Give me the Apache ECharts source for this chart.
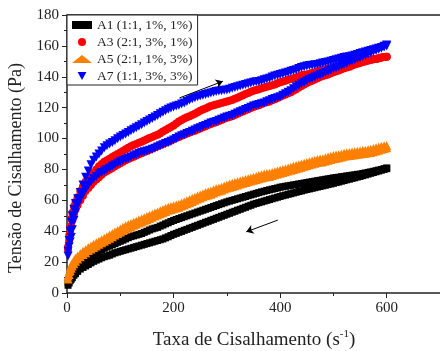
<!DOCTYPE html>
<html><head><meta charset="utf-8">
<script src="https://cdn.jsdelivr.net/npm/echarts@6/dist/echarts.min.js"></script>
<style>html,body{margin:0;padding:0;background:#fff}#c{width:440px;height:351px}</style>
</head><body><div id="c"></div>
<script>
// shear rate (s^-1) sample points
const shearRate = [2,4,6,8,10,13,16,20,25,30,35,40,
  45,50,
  55,60,65,70,75,80,85,90,95,100,
  105,110,115,120,125,130,135,140,145,150,
  155,160,165,170,175,180,185,190,195,200,
  205,210,215,220,225,230,235,240,245,250,
  255,260,265,270,275,280,285,290,295,300,
  305,310,315,320,325,330,335,340,345,350,
  355,360,365,370,375,380,385,390,395,400,
  405,410,415,420,425,430,435,440,445,450,
  455,460,465,470,475,480,485,490,495,500,
  505,510,515,520,525,530,535,540,545,550,
  555,560,565,570,575,580,585,590,595,600];

// A1 (1:1, 1%, 1%) - up and down curves (Pa)
const a1Up = [7,9,10.5,12,13,14.5,16,17.5,19,20.5,22,23,
  24,25,
  26,27,28,29,29.8,30.5,31.3,32,32.8,33.5,
  34.2,35,35.8,36.5,37,37.5,38,38.5,39.3,40,
  40.8,41.5,42,42.5,43.3,44,44.8,45.5,46.3,47,
  47.6,48.2,48.8,49.4,50,50.6,51.2,51.8,52.4,53,
  53.6,54.2,54.8,55.4,56,56.6,57.2,57.8,58.4,59,
  59.5,60,60.5,61,61.5,62,62.5,63,63.5,64,
  64.5,65,65.5,65.9,66.4,66.8,67.2,67.6,68,68.5,
  68.8,69.1,69.4,69.7,70,70.3,70.6,70.9,71.2,71.5,
  71.8,72.1,72.4,72.7,73,73.3,73.6,73.9,74.2,74.5,
  74.8,75,75.3,75.5,75.8,76,76.3,76.5,76.8,77,
  77.4,77.7,78.1,78.4,78.8,79.2,79.6,80,80.5,81];
const a1Down = [5,6.5,8,9,10,11.5,12.5,14,15.5,16.5,17.5,18.5,
  19.5,20.5,
  21.3,22,22.8,23.5,24,24.5,25.3,26,26.5,27,
  27.5,28,28.5,29,29.5,30,30.5,31,31.5,32,
  32.5,33,33.5,34,34.5,35,35.7,36.4,37.2,38,
  38.6,39.3,39.9,40.6,41.2,41.9,42.5,43.2,43.8,44.5,
  45.1,45.8,46.4,47.1,47.7,48.4,49,49.7,50.3,51,
  51.6,52.3,52.9,53.6,54.2,54.9,55.5,56.2,56.8,57.5,
  58,58.5,59,59.5,60,60.5,61,61.5,62,62.5,
  63,63.4,63.9,64.3,64.8,65.2,65.7,66.1,66.6,67,
  67.4,67.8,68.2,68.6,69,69.4,69.8,70.2,70.6,71,
  71.5,71.9,72.4,72.8,73.3,73.7,74.2,74.6,75.1,75.5,
  76,76.5,77,77.5,78,78.5,79,79.5,80,80.5];

// A3 (2:1, 3%, 1%)
const a3Up = [30,37,43,48,52,56,59,62,66,69,72,75,
  76.5,78,
  80,82,83.5,85,86,87,88,89,90,91,
  92,93,94,95,95.8,96.5,97.3,98,98.8,99.5,
  100.3,101,101.8,102.5,103.5,104.5,105.5,106.5,107.5,108.5,
  109.8,111,112,113,113.8,114.5,115.3,116,117,118,
  118.8,119.5,120.3,121,121.5,122,122.5,123,123.5,124,
  124.5,125,125.8,126.5,127.3,128,128.8,129.5,130.3,131,
  131.5,132,132.5,133,133.5,134,134.5,135,135.8,136.5,
  137,137.5,138,138.5,139,139.5,140.3,141,141.3,141.5,
  142,142.5,143,143.5,144,144.5,144.8,145,145.5,146,
  146.3,146.5,146.8,147,147.5,148,148.5,149,149.3,149.5,
  149.8,150,150.5,151,151.3,151.5,152,152.5,152.8,153];
const a3Down = [28,34,39,43,47,51,54,57,60,63,66,68,
  70,72,
  73.5,75,76.5,78,79,80,81,82,83,84,
  85,86,86.8,87.5,88.3,89,89.8,90.5,91.3,92,
  92.8,93.5,94.3,95,95.8,96.5,97.3,98,98.8,99.5,
  100.3,101,101.8,102.5,103.3,104,104.5,105,105.8,106.5,
  107.3,108,108.8,109.5,110,110.5,111.3,112,112.8,113.5,
  114,114.5,115.3,116,116.8,117.5,118.3,119,119.8,120.5,
  121,121.5,122.3,123,123.5,124,124.8,125.5,126.3,127,
  127.8,128.5,129.3,130,131,132,133,134,135,136,
  136.8,137.5,138.3,139,139.8,140.5,141,141.5,142.3,143,
  143.5,144,144.8,145.5,146,146.5,147.3,148,148.5,149,
  149.5,150,150.5,151,151.3,151.5,152,152.5,152.8,153];

// A5 (2:1, 1%, 3%)
const a5Up = [11,14,16.5,18,19.5,21,22.5,24,25.5,27,28,29.5,
  30.5,31.5,
  32.5,33.5,34.5,35.5,36.5,37.5,38.5,39.5,40.5,41.5,
  42.5,43.5,44.3,45,45.8,46.5,47.3,48,48.8,49.5,
  50.3,51,51.8,52.5,53.3,54,54.8,55.5,56,56.5,
  57,57.5,58.3,59,59.8,60.5,61.3,62,62.8,63.5,
  64.3,65,65.5,66,66.8,67.5,68,68.5,69.3,70,
  70.5,71,71.5,72,72.5,73,73.5,74,74.5,75,
  75.5,76,76.5,77,77.3,77.5,78,78.5,79,79.5,
  80,80.5,81,81.5,82,82.5,83,83.5,84,84.5,
  85,85.5,86,86.5,86.8,87,87.5,88,88.5,89,
  89.3,89.5,90,90.5,90.8,91,91.3,91.5,91.8,92,
  92.3,92.5,92.8,93,93.5,94,94.5,95,95.3,95.5];
const a5Down = [9,12,14.5,16,17.5,19,20.5,22,23.5,25,26,27.5,
  28.5,29.5,
  30.5,31.5,32.5,33.5,34.5,35.5,36.5,37.5,38.5,39.5,
  40.5,41.5,42.3,43,43.8,44.5,45.3,46,46.8,47.5,
  48.3,49,49.8,50.5,51.3,52,52.8,53.5,54,54.5,
  55,55.5,56.3,57,57.8,58.5,59.3,60,60.8,61.5,
  62.3,63,63.5,64,64.8,65.5,66,66.5,67.3,68,
  68.5,69,69.5,70,70.5,71,71.5,72,72.5,73,
  73.5,74,74.5,75,75.3,75.5,76,76.5,77,77.5,
  78,78.5,79,79.5,80,80.5,81,81.5,82,82.5,
  83,83.5,84,84.5,84.8,85,85.5,86,86.5,87,
  87.3,87.5,88,88.5,88.8,89,89.3,89.5,89.8,90,
  90.3,90.5,90.8,91,91.5,92,92.5,93,93.5,94];

// A7 (1:1, 3%, 3%)
const a7Up = [27,34,40,46,50,54,58,61,65,70,75,79,
  83,86,
  88,90,92,94,95.3,96.5,97.5,98.5,99.8,101,
  102,103,104,105,106,107,108,109,110,111,
  112,113,114,115,116,117,118,119,119.8,120.5,
  121,121.5,122.3,123,124,125,125.8,126.5,127,127.5,
  128,128.5,129,129.5,130,130.5,130.8,131,131.3,131.5,
  132,132.5,133,133.5,134,134.5,135,135.5,136,136.5,
  136.8,137,137.5,138,138.5,139,139.8,140.5,141,141.5,
  142,142.5,143,143.5,144,144.5,145.3,146,146.5,147,
  147.3,147.5,147.8,148,148.5,149,149.3,149.5,150,150.5,
  151,151.5,152,152.5,152.8,153,153.5,154,154.5,155,
  155.5,156,156.5,157,157.5,158,158.5,159,159.8,160.5];
const a7Down = [24,30,33,36,41,47,52,57,61,64,67,70,
  72,74,
  75.5,77,78,79,80,81,82,83,84,85,
  85.8,86.5,87.3,88,88.8,89.5,90.3,91,91.5,92,
  92.5,93,93.8,94.5,95.3,96,96.8,97.5,98.3,99,
  100,101,101.8,102.5,103.3,104,104.8,105.5,106.3,107,
  107.8,108.5,109.3,110,110.5,111,111.8,112.5,113.3,114,
  114.5,115,115.8,116.5,117.3,118,118.8,119.5,120.3,121,
  121.5,122,122.5,123,123.8,124.5,125.3,126,126.5,127,
  128,129,130,131,132.3,133.5,134.5,135.5,136.5,137.5,
  138.3,139,139.8,140.5,141.3,142,142.8,143.5,144.3,145,
  145.8,146.5,147.3,148,148.8,149.5,150.3,151,151.8,152.5,
  153.3,154,154.8,155.5,156.3,157,157.8,158.5,159.3,160];

const seriesNames = ['A1 (1:1, 1%, 1%)','A3 (2:1, 3%, 1%)','A5 (2:1, 1%, 3%)','A7 (1:1, 3%, 3%)'];
const xTicks = [0,200,400,600];
// arrow annotations [start, end] in data units
const arrowUp = [[211,126.3],[292.5,137.1]];
const arrowDown = [[395.6,47.2],[336.4,39.6]];

function loop(up, down){
  return shearRate.map((x,i)=>[x, up[i]]).concat(shearRate.map((x,i)=>[x, down[i]]));
}
const serif = '"Liberation Serif","Times New Roman",serif';
const axisColor = '#222';
const downTri = 'path://M0,0 L10,0 L5,9 Z';

const chart = echarts.init(document.getElementById('c'), null, {renderer:'canvas'});
chart.setOption({
  animation:false,
  backgroundColor:'#fff',
  grid:{left:67, right:0, top:15, bottom:58, containLabel:false},
  legend:{
    orient:'vertical', left:67, top:15,
    backgroundColor:'#fff', borderColor:axisColor, borderWidth:1,
    padding:[3,5,2,5], itemWidth:20, itemHeight:8, itemGap:3,
    textStyle:{fontFamily:serif, fontSize:13.5, color:'#222'},
    data:seriesNames
  },
  xAxis:[{
    type:'value', min:0, max:700, interval:200,
    axisLine:{show:true, onZero:false, lineStyle:{color:axisColor, width:1.5}},
    axisTick:{show:true, length:5, lineStyle:{color:axisColor, width:1}},
    minorTick:{show:true, splitNumber:2, length:3, lineStyle:{color:axisColor, width:1}},
    splitLine:{show:false},
    axisLabel:{showMaxLabel:false, fontFamily:serif, fontSize:15, color:'#222', margin:8,
      formatter:v=> xTicks.indexOf(v)>=0 ? String(v) : ''}
  },{
    type:'value', position:'top', min:0, max:700,
    axisLine:{show:true, onZero:false, lineStyle:{color:axisColor, width:1.5}},
    axisTick:{show:false}, axisLabel:{show:false}, splitLine:{show:false}
  }],
  yAxis:{
    type:'value', min:0, max:180, interval:20,
    axisLine:{show:true, onZero:false, lineStyle:{color:axisColor, width:1.5}},
    axisTick:{show:true, length:5, lineStyle:{color:axisColor, width:1}},
    minorTick:{show:true, splitNumber:2, length:3, lineStyle:{color:axisColor, width:1}},
    splitLine:{show:false},
    axisLabel:{fontFamily:serif, fontSize:15, color:'#222', margin:8}
  },
  graphic:[
    {type:'text', x:16, y:168, rotation:Math.PI/2,
      style:{text:'Tensão de Cisalhamento (Pa)', font:'18px '+serif, fill:'#222', align:'center', verticalAlign:'middle'}},
    {type:'text', x:254, y:340,
      style:{text:'{a|Taxa de Cisalhamento (s}{b|-1}{a|)}', align:'center', verticalAlign:'middle',
        rich:{a:{fontFamily:serif, fontSize:19, fill:'#222', lineHeight:22},
              b:{fontFamily:serif, fontSize:11, fill:'#222', lineHeight:22, verticalAlign:'top'}}}}
  ],
  series:[
    {name:seriesNames[0], type:'scatter', symbol:'rect', symbolSize:7,
      itemStyle:{color:'#000000', opacity:1}, data:loop(a1Up,a1Down),
      markLine:{silent:true, symbol:['none','arrow'], symbolSize:7,
        label:{show:false}, lineStyle:{color:'#000', width:1, type:'solid'},
        data:[[{coord:arrowUp[0]},{coord:arrowUp[1]}],[{coord:arrowDown[0]},{coord:arrowDown[1]}]]}},
    {name:seriesNames[1], type:'scatter', symbol:'circle', symbolSize:8,
      itemStyle:{color:'#ff0000', opacity:1}, data:loop(a3Up,a3Down)},
    {name:seriesNames[2], type:'scatter', symbol:'triangle', symbolSize:9,
      itemStyle:{color:'#ff8000', opacity:1}, data:loop(a5Up,a5Down)},
    {name:seriesNames[3], type:'scatter', symbol:downTri, symbolSize:9,
      itemStyle:{color:'#0000ff', opacity:1}, data:loop(a7Up,a7Down)}
  ]
});
</script>
</body></html>
